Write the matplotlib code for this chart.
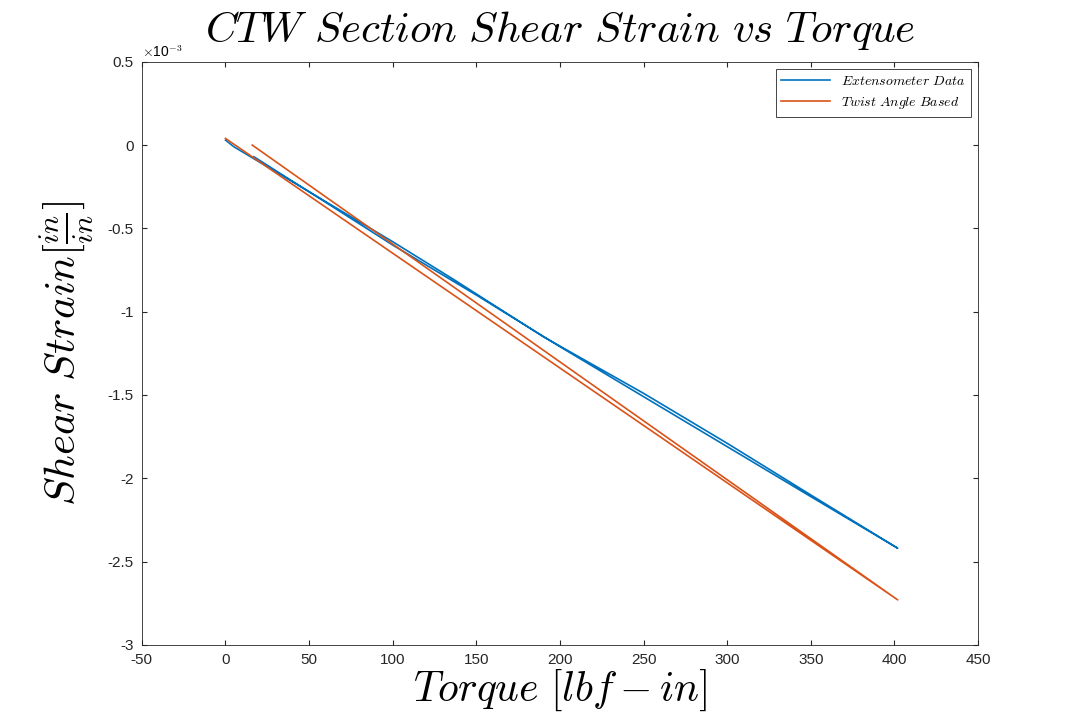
import matplotlib
matplotlib.use('Agg')
import matplotlib.pyplot as plt

plt.rcParams['mathtext.fontset'] = 'cm'
plt.rcParams['axes.unicode_minus'] = False
plt.rcParams['font.family'] = ['Liberation Sans', 'DejaVu Sans']

# extensometer: loading then unloading branch
ext_torque = [0, 5, 50, 100, 137, 190, 250, 300, 350, 402, 350, 300, 250, 200, 150, 100, 50, 17]
ext_strain = [0.00003, -0.00001, -0.00028, -0.00058, -0.00081, -0.00115, -0.00149, -0.00179, -0.00210, -0.00242,
              -0.00211, -0.00181, -0.00151, -0.00121, -0.00090, -0.00060, -0.00028, -0.00007]
# twist angle based: loading then unloading
twist_torque = [0, 402, 16]
twist_strain = [0.00004, -0.00273, 0.0]

fig = plt.figure(figsize=(10.83, 7.27), dpi=100)
ax = fig.add_axes([0.131, 0.113, 0.772, 0.802])
ax.plot(ext_torque, ext_strain, color='#0072BD', lw=1.2, label=r'$Extensometer\ Data$')
ax.plot(twist_torque, twist_strain, color='#D95319', lw=1.2, label=r'$Twist\ Angle\ Based$')
ax.set_xlim(-50, 450)
ax.set_ylim(-0.003, 0.0005)
ax.set_xticks(range(-50, 451, 50))
ax.set_yticks([-0.003, -0.0025, -0.002, -0.0015, -0.001, -0.0005, 0, 0.0005])
ax.set_yticklabels(['-3', '-2.5', '-2', '-1.5', '-1', '-0.5', '0', '0.5'])
ax.text(0, 1.003, r'$\times$10$^{-3}$', transform=ax.transAxes, fontsize=10, va='bottom')
ax.tick_params(direction='in', top=True, right=True, labelsize=11, colors='#262626', pad=6)
for s in ax.spines.values():
    s.set_color('#262626')
    s.set_linewidth(0.6)
ax.set_title(r'$CTW\ Section\ Shear\ Strain\ vs\ Torque$', fontsize=31, pad=14)
ax.set_xlabel(r'$Torque\ [lbf-in]$', fontsize=30, labelpad=0)
ax.set_ylabel(r'$Shear\ Strain[\frac{in}{in}]$', fontsize=31, labelpad=8)
leg = ax.legend(loc='upper right', fontsize=10, fancybox=False, framealpha=1, handlelength=3.5)
leg.get_frame().set_edgecolor('#262626')
leg.get_frame().set_linewidth(0.6)
fig.savefig('out.png')
